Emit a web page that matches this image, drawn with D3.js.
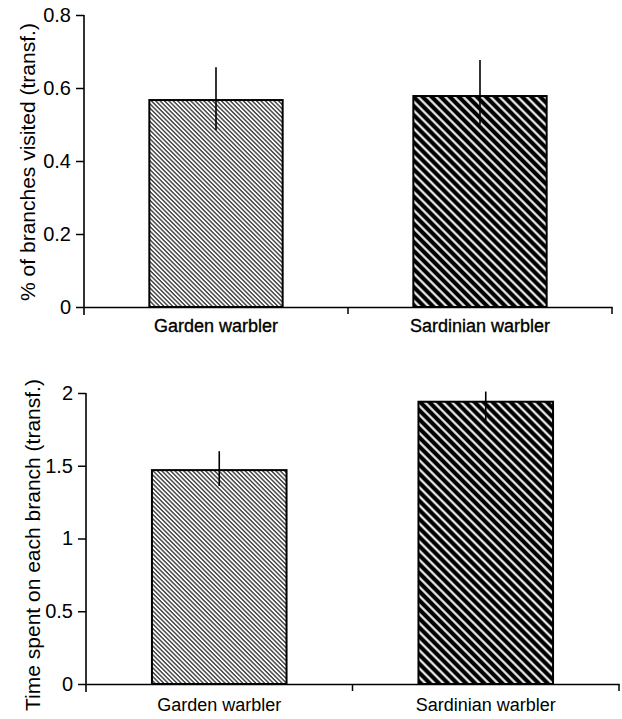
<!DOCTYPE html>
<html>
<head>
<meta charset="utf-8">
<script src="https://cdn.jsdelivr.net/npm/d3@7"></script>
<style>
  html, body { margin: 0; padding: 0; background: #fff; }
  svg { display: block; font-family: "Liberation Sans", Arial, sans-serif; }
</style>
</head>
<body>
<div id="chart"></div>
<script>
// data
const categories = ['Garden warbler', 'Sardinian warbler'];

const visitedMean = [0.567, 0.578];
const visitedLow = [0.485, 0.50];
const visitedHigh = [0.657, 0.677];
const visitedTicks = [0, 0.2, 0.4, 0.6, 0.8];
const visitedLabel = '% of branches visited (transf.)';

const timeMean = [1.47, 1.94];
const timeLow = [1.36, 1.81];
const timeHigh = [1.60, 2.01];
const timeTicks = [0, 0.5, 1, 1.5, 2];
const timeLabel = 'Time spent on each branch (transf.)';

const fills = ['url(#hatchFine)', 'url(#hatchBold)'];

const svg = d3.select('#chart').append('svg')
  .attr('width', 622)
  .attr('height', 719);

const defs = svg.append('defs');

// fine grey-ish hatch for garden warbler
const fine = defs.append('pattern')
  .attr('id', 'hatchFine')
  .attr('patternUnits', 'userSpaceOnUse')
  .attr('width', 3.1).attr('height', 3.1)
  .attr('patternTransform', 'rotate(45)');
fine.append('rect').attr('width', 3.1).attr('height', 3.1).attr('fill', '#fff');
fine.append('line')
  .attr('x1', 0).attr('x2', 3.1).attr('y1', 1.5).attr('y2', 1.5)
  .attr('stroke', '#111').attr('stroke-width', 1.15);

// black with white stripes for sardinian warbler
const bold = defs.append('pattern')
  .attr('id', 'hatchBold')
  .attr('patternUnits', 'userSpaceOnUse')
  .attr('width', 6.4).attr('height', 6.4)
  .attr('patternTransform', 'rotate(45)');
bold.append('rect').attr('width', 6.4).attr('height', 6.4).attr('fill', '#000');
bold.append('line')
  .attr('x1', 0).attr('x2', 6.4).attr('y1', 3.2).attr('y2', 3.2)
  .attr('stroke', '#fff').attr('stroke-width', 2.1);

function panel(opts) {
  const g = svg.append('g');
  const x = d3.scaleBand().domain(categories).range([opts.left, opts.right]).padding(0);
  const y = d3.scaleLinear().domain([0, opts.max]).range([opts.bottom, opts.top]);
  const barW = x.bandwidth() * 0.505;

  // bars
  g.selectAll('rect.bar').data(categories).join('rect')
    .attr('class', 'bar')
    .attr('x', d => x(d) + (x.bandwidth() - barW) / 2)
    .attr('width', barW)
    .attr('y', (d, i) => y(opts.mean[i]))
    .attr('height', (d, i) => y(0) - y(opts.mean[i]))
    .attr('fill', (d, i) => fills[i])
    .attr('stroke', '#000')
    .attr('stroke-width', 2);

  // error bars
  g.selectAll('line.err').data(categories).join('line')
    .attr('class', 'err')
    .attr('x1', d => x(d) + x.bandwidth() / 2)
    .attr('x2', d => x(d) + x.bandwidth() / 2)
    .attr('y1', (d, i) => y(opts.low[i]))
    .attr('y2', (d, i) => y(opts.high[i]))
    .attr('stroke', '#000')
    .attr('stroke-width', 1.6);

  // y axis
  const yAxis = g.append('g')
    .attr('transform', `translate(${opts.left},0)`)
    .call(d3.axisLeft(y).tickValues(opts.ticks).tickSize(8).tickPadding(5)
      .tickFormat(d3.format('~g')));
  yAxis.select('.domain').remove();
  yAxis.selectAll('.tick line').attr('stroke', '#000').attr('stroke-width', 1.5);
  yAxis.selectAll('.tick text')
    .attr('fill', '#000')
    .style('font-size', '20px');
  yAxis.append('line')
    .attr('x1', 0).attr('x2', 0)
    .attr('y1', y(opts.max)).attr('y2', y(0) + 8)
    .attr('stroke', '#000').attr('stroke-width', 1.6);

  // x axis
  const xAxis = g.append('g')
    .attr('transform', `translate(0,${y(0)})`)
    .call(d3.axisBottom(x).tickSize(0).tickPadding(opts.labelPad));
  xAxis.select('.domain').attr('stroke', '#000').attr('stroke-width', 1.6);
  xAxis.selectAll('.tick text')
    .attr('fill', '#000')
    .style('font-size', '18px')
    .attr('stroke', opts.labelStroke ? '#000' : 'none')
    .attr('stroke-width', 0.35);
  xAxis.selectAll('line.sep').data(categories).join('line')
    .attr('class', 'sep')
    .attr('x1', d => x(d) + x.bandwidth())
    .attr('x2', d => x(d) + x.bandwidth())
    .attr('y1', 0).attr('y2', 7)
    .attr('stroke', '#000').attr('stroke-width', 1.5);

  // y label
  g.append('text')
    .attr('transform', `translate(${opts.labelX},${opts.labelY}) rotate(-90)`)
    .attr('text-anchor', 'middle')
    .style('font-size', '21px')
    .text(opts.label);
}

panel({
  left: 84, right: 612, top: 15, bottom: 307, max: 0.8,
  mean: visitedMean, low: visitedLow, high: visitedHigh,
  ticks: visitedTicks, label: visitedLabel,
  labelX: 35, labelY: 162, labelPad: 12, labelStroke: true
});

panel({
  left: 86, right: 619, top: 393, bottom: 684, max: 2,
  mean: timeMean, low: timeLow, high: timeHigh,
  ticks: timeTicks, label: timeLabel,
  labelX: 40, labelY: 545, labelPad: 14, labelStroke: false
});
</script>
</body>
</html>
